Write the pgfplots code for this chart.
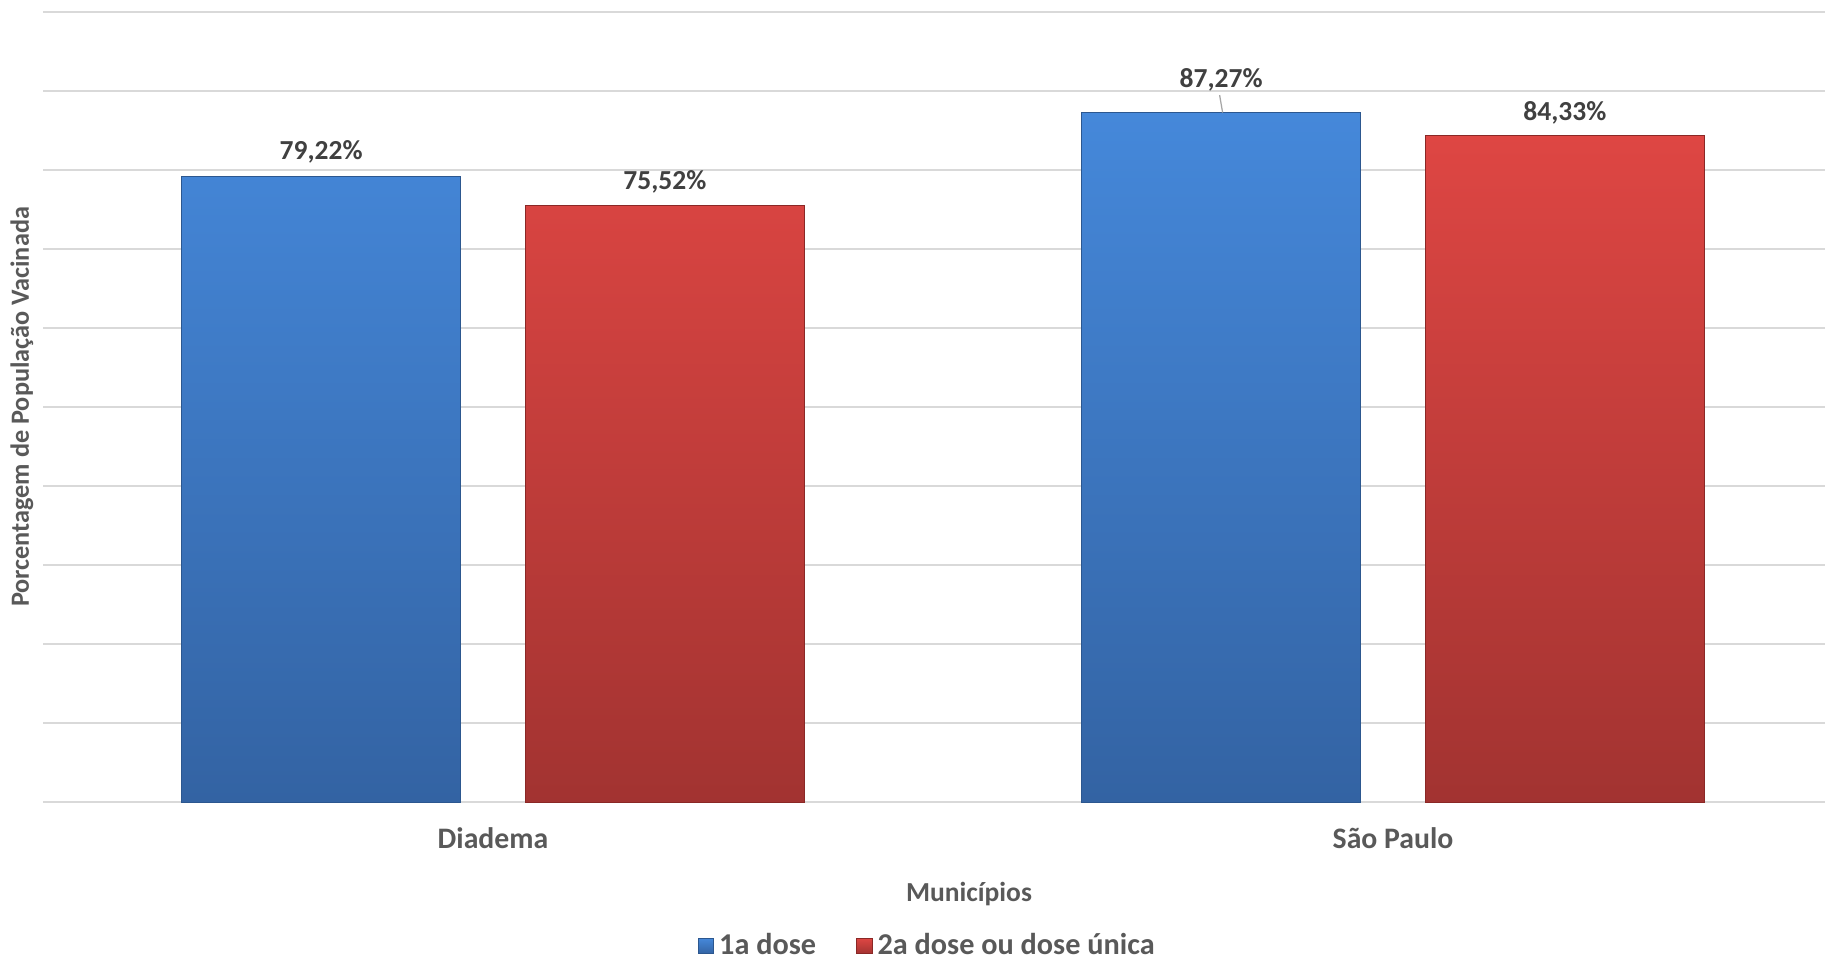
\documentclass[border=0pt]{standalone}
\usepackage{pgfplots}
\pgfplotsset{compat=1.18}
\usepackage{pgfplotstable}
\usepackage{fontspec}
\setmainfont{Carlito}
\definecolor{btop}{HTML}{4588DA}
\definecolor{bbot}{HTML}{3363A3}
\definecolor{bedge}{HTML}{2C578F}
\definecolor{rtop}{HTML}{DE4643}
\definecolor{rbot}{HTML}{A23331}
\definecolor{redge}{HTML}{8A2826}
\definecolor{gridc}{HTML}{D9D9D9}
\definecolor{lab}{HTML}{404040}
\definecolor{tick}{HTML}{595959}
\pgfplotstableread{
x y dy
-0.191 79.22 9.6
0.809 87.27 13.2
}\first
\pgfplotstableread{
x y dy
0.191 75.52 9.6
1.191 84.33 9.2
}\second
\begin{document}
\begin{tikzpicture}
\path[use as bounding box] (-17.2pt,-64pt) rectangle ++(730pt,384.8pt);
\begin{axis}[
  at={(0pt,0pt)}, anchor=south west,
  scale only axis,
  width=712.8pt, height=316pt,
  xmin=-0.5, xmax=1.48,
  ymin=0, ymax=100,
  ytick={0,10,...,100}, yticklabels={},
  ymajorgrids, grid style={gridc, line width=0.8pt},
  major tick length=0pt,
  axis line style={draw=none},
  xtick={0,1}, xticklabels={Diadema, São Paulo},
  xticklabel style={anchor=center, yshift=-14.4pt, font=\fontsize{11.9}{14}\selectfont\bfseries, text=tick},
  xlabel={Municípios},
  xlabel style={at={(axis description cs:0.5,0)}, anchor=center, xshift=14pt, yshift=-36.8pt, font=\fontsize{11}{13}\selectfont\bfseries, text=tick},
  ylabel={Porcentagem de População Vacinada},
  ylabel style={at={(axis description cs:0,0.5)}, anchor=center, yshift=8.4pt, font=\fontsize{10.5}{13}\selectfont\bfseries, text=tick},
  bar width=0.31,
  clip=false,
  legend style={at={(0.497,0)}, anchor=center, yshift=-57.6pt, legend columns=2, draw=none, fill=none,
    inner sep=0pt, outer sep=0pt,
    font=\fontsize{12.1}{13}\selectfont\bfseries, text=tick,
    /tikz/every even column/.append style={column sep=14pt}},
  legend image code/.code={\draw[#1] (0pt,-3.1pt) rectangle (6.2pt,3.1pt);},
  nodes near coords={\pgfmathprintnumber[fixed,fixed zerofill,precision=2,use comma]{\pgfplotspointmeta}\%},
  /pgf/number format/assume math mode=true,
  visualization depends on={\thisrow{dy} \as \dy},
  every node near coord/.append style={anchor=center, yshift=\dy pt, font=\fontsize{11}{13}\selectfont\bfseries, text=lab},
]
\addplot[ybar, bar shift=0pt, draw=bedge, line width=0.4pt, top color=btop, bottom color=bbot] table[x=x,y=y] {\first};
\addlegendentry{1a dose}
\addplot[ybar, bar shift=0pt, draw=redge, line width=0.4pt, top color=rtop, bottom color=rbot] table[x=x,y=y] {\second};
\addlegendentry{2a dose ou dose única}
\draw[gray!70, line width=0.5pt] ([xshift=0.6pt]axis cs:0.809,87.27) -- ++(-1.2pt,7pt);
\end{axis}
\end{tikzpicture}
\end{document}
